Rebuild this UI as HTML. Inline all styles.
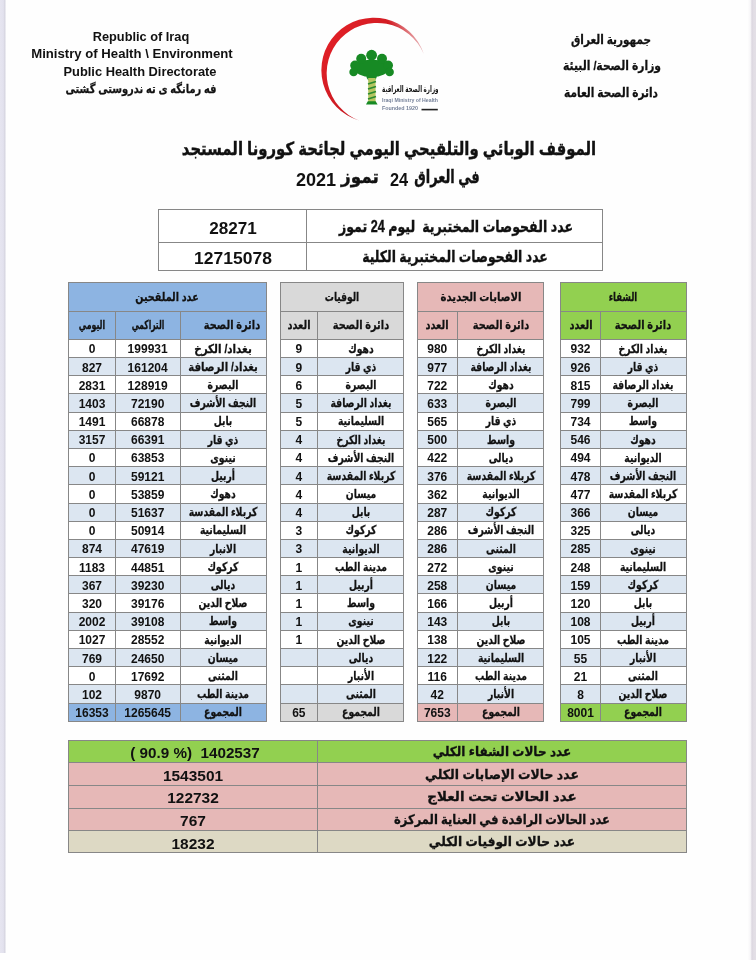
<!DOCTYPE html>
<html lang="ar"><head><meta charset="utf-8"><title>الموقف الوبائي والتلقيحي اليومي</title>
<style>
html,body{margin:0;padding:0}
body{width:756px;height:960px;position:relative;overflow:hidden;background:#fefefe;font-family:'Liberation Sans','DejaVu Sans',sans-serif;}
#c{position:absolute;left:0;top:0;width:756px;height:960px;filter:blur(0.4px)}
.b{position:absolute}
.t{position:absolute;white-space:pre;line-height:1;font-weight:bold;color:#111;font-family:'Liberation Sans','DejaVu Sans',sans-serif;}
.a{-webkit-text-stroke:0.022em #111}
</style></head>
<body>
<div class="b" style="left:0;top:0;width:6px;height:953px;background:linear-gradient(90deg,#e6e5f0 0,#e3e2ee 55%,#d9d8e3 75%,#f2f2f6 100%)"></div>
<div class="b" style="left:748px;top:0;width:8px;height:960px;background:linear-gradient(90deg,#fdfdfd 0,#f6f5f7 30%,#dcd7e0 50%,#e2dee5 72%,#e3dfe6 100%)"></div>
<div id="c">
<svg class="b" style="left:300px;top:8px" width="170" height="124" viewBox="300 8 170 124">
<defs>
<linearGradient id="cg" gradientUnits="userSpaceOnUse" x1="330" y1="40" x2="420" y2="110">
<stop offset="0" stop-color="#e01f26"/><stop offset="0.55" stop-color="#c81a22"/><stop offset="1" stop-color="#a01020"/>
</linearGradient>
<radialGradient id="fade" gradientUnits="userSpaceOnUse" cx="345" cy="62" r="82">
<stop offset="0" stop-color="#fff" stop-opacity="1"/><stop offset="0.72" stop-color="#fff" stop-opacity="1"/><stop offset="1" stop-color="#fff" stop-opacity="0.15"/>
</radialGradient>
<mask id="fm"><rect x="300" y="8" width="170" height="124" fill="url(#fade)"/></mask>
</defs>
<path mask="url(#fm)" fill="url(#cg)" d="M423.8 54 A52.5 52.5 0 1 0 359.5 120.7 A50.5 50.5 0 1 1 423.8 54 Z"/>
<g fill="#178a24">
<ellipse cx="371.6" cy="68.2" rx="17.5" ry="8.8"/>
<circle cx="371.6" cy="55.2" r="5.4"/>
<circle cx="361.2" cy="58.8" r="5"/>
<circle cx="382" cy="58.8" r="5"/>
<circle cx="355" cy="65.4" r="4.8"/>
<circle cx="388.2" cy="65.4" r="4.8"/>
<circle cx="353.6" cy="72" r="4.3"/>
<circle cx="389.6" cy="72" r="4.3"/>
<circle cx="371.6" cy="76" r="5.2"/>
</g>
<rect x="368.2" y="78" width="7.4" height="24" fill="#b4c560"/>
<g stroke="#2c8a30" stroke-width="1.8">
<path d="M368 84l8-2.5M368 89l8-2.5M368 94l8-2.5M368 99l8-2.5"/>
</g>
<path d="M366 104.6l1.8-3.4h7.8l2 3.4z" fill="#178a24"/>
<text x="410.3" y="91.8" text-anchor="middle" font-family="'Liberation Sans','DejaVu Sans',sans-serif" font-weight="bold" font-size="8.6" fill="#111" textLength="56.5" lengthAdjust="spacingAndGlyphs">وزارة الصحة العراقية</text>
<text x="382" y="101.6" font-family="'Liberation Sans',sans-serif" font-weight="bold" font-size="4.6" fill="#76829a" textLength="56" lengthAdjust="spacingAndGlyphs">Iraqi Ministry of Health</text>
<text x="382" y="110.3" font-family="'Liberation Sans',sans-serif" font-weight="bold" font-size="4.6" fill="#76829a" textLength="36" lengthAdjust="spacingAndGlyphs">Founded  1920</text>
<rect x="421.5" y="108.8" width="16.3" height="1.6" fill="#222"/>
</svg>

<div class="b" style="left:158.50px;top:209.60px;width:443.80px;height:60.90px;background:#fff;"></div>
<div class="b" style="left:158.00px;top:209.00px;width:445.00px;height:1.00px;background:#878787;"></div>
<div class="b" style="left:158.00px;top:242.00px;width:445.00px;height:1.00px;background:#878787;"></div>
<div class="b" style="left:158.00px;top:270.00px;width:445.00px;height:1.00px;background:#878787;"></div>
<div class="b" style="left:158.00px;top:209.00px;width:1.00px;height:62.00px;background:#878787;"></div>
<div class="b" style="left:306.00px;top:209.00px;width:1.00px;height:62.00px;background:#878787;"></div>
<div class="b" style="left:602.00px;top:209.00px;width:1.00px;height:62.00px;background:#878787;"></div>
<div class="b" style="left:560.50px;top:282.30px;width:125.50px;height:57.00px;background:#92d050;"></div>
<div class="b" style="left:560.50px;top:339.30px;width:125.50px;height:18.19px;background:#fff;"></div>
<div class="b" style="left:560.50px;top:357.49px;width:125.50px;height:18.19px;background:#dce6f1;"></div>
<div class="b" style="left:560.50px;top:375.68px;width:125.50px;height:18.19px;background:#fff;"></div>
<div class="b" style="left:560.50px;top:393.87px;width:125.50px;height:18.19px;background:#dce6f1;"></div>
<div class="b" style="left:560.50px;top:412.06px;width:125.50px;height:18.19px;background:#fff;"></div>
<div class="b" style="left:560.50px;top:430.25px;width:125.50px;height:18.19px;background:#dce6f1;"></div>
<div class="b" style="left:560.50px;top:448.44px;width:125.50px;height:18.19px;background:#fff;"></div>
<div class="b" style="left:560.50px;top:466.63px;width:125.50px;height:18.19px;background:#dce6f1;"></div>
<div class="b" style="left:560.50px;top:484.82px;width:125.50px;height:18.19px;background:#fff;"></div>
<div class="b" style="left:560.50px;top:503.01px;width:125.50px;height:18.19px;background:#dce6f1;"></div>
<div class="b" style="left:560.50px;top:521.20px;width:125.50px;height:18.19px;background:#fff;"></div>
<div class="b" style="left:560.50px;top:539.39px;width:125.50px;height:18.19px;background:#dce6f1;"></div>
<div class="b" style="left:560.50px;top:557.58px;width:125.50px;height:18.19px;background:#fff;"></div>
<div class="b" style="left:560.50px;top:575.77px;width:125.50px;height:18.19px;background:#dce6f1;"></div>
<div class="b" style="left:560.50px;top:593.96px;width:125.50px;height:18.19px;background:#fff;"></div>
<div class="b" style="left:560.50px;top:612.15px;width:125.50px;height:18.19px;background:#dce6f1;"></div>
<div class="b" style="left:560.50px;top:630.34px;width:125.50px;height:18.19px;background:#fff;"></div>
<div class="b" style="left:560.50px;top:648.53px;width:125.50px;height:18.19px;background:#dce6f1;"></div>
<div class="b" style="left:560.50px;top:666.72px;width:125.50px;height:18.19px;background:#fff;"></div>
<div class="b" style="left:560.50px;top:684.91px;width:125.50px;height:18.19px;background:#dce6f1;"></div>
<div class="b" style="left:560.50px;top:703.10px;width:125.50px;height:18.19px;background:#92d050;"></div>
<div class="b" style="left:560.00px;top:282.00px;width:127.00px;height:1.00px;background:#878787;"></div>
<div class="b" style="left:560.00px;top:311.00px;width:127.00px;height:1.00px;background:#878787;"></div>
<div class="b" style="left:560.00px;top:339.00px;width:127.00px;height:1.00px;background:#878787;"></div>
<div class="b" style="left:560.00px;top:357.00px;width:127.00px;height:1.00px;background:#878787;"></div>
<div class="b" style="left:560.00px;top:375.00px;width:127.00px;height:1.00px;background:#878787;"></div>
<div class="b" style="left:560.00px;top:393.00px;width:127.00px;height:1.00px;background:#878787;"></div>
<div class="b" style="left:560.00px;top:412.00px;width:127.00px;height:1.00px;background:#878787;"></div>
<div class="b" style="left:560.00px;top:430.00px;width:127.00px;height:1.00px;background:#878787;"></div>
<div class="b" style="left:560.00px;top:448.00px;width:127.00px;height:1.00px;background:#878787;"></div>
<div class="b" style="left:560.00px;top:466.00px;width:127.00px;height:1.00px;background:#878787;"></div>
<div class="b" style="left:560.00px;top:484.00px;width:127.00px;height:1.00px;background:#878787;"></div>
<div class="b" style="left:560.00px;top:503.00px;width:127.00px;height:1.00px;background:#878787;"></div>
<div class="b" style="left:560.00px;top:521.00px;width:127.00px;height:1.00px;background:#878787;"></div>
<div class="b" style="left:560.00px;top:539.00px;width:127.00px;height:1.00px;background:#878787;"></div>
<div class="b" style="left:560.00px;top:557.00px;width:127.00px;height:1.00px;background:#878787;"></div>
<div class="b" style="left:560.00px;top:575.00px;width:127.00px;height:1.00px;background:#878787;"></div>
<div class="b" style="left:560.00px;top:593.00px;width:127.00px;height:1.00px;background:#878787;"></div>
<div class="b" style="left:560.00px;top:612.00px;width:127.00px;height:1.00px;background:#878787;"></div>
<div class="b" style="left:560.00px;top:630.00px;width:127.00px;height:1.00px;background:#878787;"></div>
<div class="b" style="left:560.00px;top:648.00px;width:127.00px;height:1.00px;background:#878787;"></div>
<div class="b" style="left:560.00px;top:666.00px;width:127.00px;height:1.00px;background:#878787;"></div>
<div class="b" style="left:560.00px;top:684.00px;width:127.00px;height:1.00px;background:#878787;"></div>
<div class="b" style="left:560.00px;top:703.00px;width:127.00px;height:1.00px;background:#878787;"></div>
<div class="b" style="left:560.00px;top:721.00px;width:127.00px;height:1.00px;background:#878787;"></div>
<div class="b" style="left:560.00px;top:282.00px;width:1.00px;height:440.00px;background:#878787;"></div>
<div class="b" style="left:686.00px;top:282.00px;width:1.00px;height:440.00px;background:#878787;"></div>
<div class="b" style="left:600.00px;top:311.00px;width:1.00px;height:411.00px;background:#878787;"></div>
<div class="b" style="left:417.40px;top:282.30px;width:126.50px;height:57.00px;background:#e6b8b7;"></div>
<div class="b" style="left:417.40px;top:339.30px;width:126.50px;height:18.19px;background:#fff;"></div>
<div class="b" style="left:417.40px;top:357.49px;width:126.50px;height:18.19px;background:#dce6f1;"></div>
<div class="b" style="left:417.40px;top:375.68px;width:126.50px;height:18.19px;background:#fff;"></div>
<div class="b" style="left:417.40px;top:393.87px;width:126.50px;height:18.19px;background:#dce6f1;"></div>
<div class="b" style="left:417.40px;top:412.06px;width:126.50px;height:18.19px;background:#fff;"></div>
<div class="b" style="left:417.40px;top:430.25px;width:126.50px;height:18.19px;background:#dce6f1;"></div>
<div class="b" style="left:417.40px;top:448.44px;width:126.50px;height:18.19px;background:#fff;"></div>
<div class="b" style="left:417.40px;top:466.63px;width:126.50px;height:18.19px;background:#dce6f1;"></div>
<div class="b" style="left:417.40px;top:484.82px;width:126.50px;height:18.19px;background:#fff;"></div>
<div class="b" style="left:417.40px;top:503.01px;width:126.50px;height:18.19px;background:#dce6f1;"></div>
<div class="b" style="left:417.40px;top:521.20px;width:126.50px;height:18.19px;background:#fff;"></div>
<div class="b" style="left:417.40px;top:539.39px;width:126.50px;height:18.19px;background:#dce6f1;"></div>
<div class="b" style="left:417.40px;top:557.58px;width:126.50px;height:18.19px;background:#fff;"></div>
<div class="b" style="left:417.40px;top:575.77px;width:126.50px;height:18.19px;background:#dce6f1;"></div>
<div class="b" style="left:417.40px;top:593.96px;width:126.50px;height:18.19px;background:#fff;"></div>
<div class="b" style="left:417.40px;top:612.15px;width:126.50px;height:18.19px;background:#dce6f1;"></div>
<div class="b" style="left:417.40px;top:630.34px;width:126.50px;height:18.19px;background:#fff;"></div>
<div class="b" style="left:417.40px;top:648.53px;width:126.50px;height:18.19px;background:#dce6f1;"></div>
<div class="b" style="left:417.40px;top:666.72px;width:126.50px;height:18.19px;background:#fff;"></div>
<div class="b" style="left:417.40px;top:684.91px;width:126.50px;height:18.19px;background:#dce6f1;"></div>
<div class="b" style="left:417.40px;top:703.10px;width:126.50px;height:18.19px;background:#e6b8b7;"></div>
<div class="b" style="left:417.00px;top:282.00px;width:127.00px;height:1.00px;background:#878787;"></div>
<div class="b" style="left:417.00px;top:311.00px;width:127.00px;height:1.00px;background:#878787;"></div>
<div class="b" style="left:417.00px;top:339.00px;width:127.00px;height:1.00px;background:#878787;"></div>
<div class="b" style="left:417.00px;top:357.00px;width:127.00px;height:1.00px;background:#878787;"></div>
<div class="b" style="left:417.00px;top:375.00px;width:127.00px;height:1.00px;background:#878787;"></div>
<div class="b" style="left:417.00px;top:393.00px;width:127.00px;height:1.00px;background:#878787;"></div>
<div class="b" style="left:417.00px;top:412.00px;width:127.00px;height:1.00px;background:#878787;"></div>
<div class="b" style="left:417.00px;top:430.00px;width:127.00px;height:1.00px;background:#878787;"></div>
<div class="b" style="left:417.00px;top:448.00px;width:127.00px;height:1.00px;background:#878787;"></div>
<div class="b" style="left:417.00px;top:466.00px;width:127.00px;height:1.00px;background:#878787;"></div>
<div class="b" style="left:417.00px;top:484.00px;width:127.00px;height:1.00px;background:#878787;"></div>
<div class="b" style="left:417.00px;top:503.00px;width:127.00px;height:1.00px;background:#878787;"></div>
<div class="b" style="left:417.00px;top:521.00px;width:127.00px;height:1.00px;background:#878787;"></div>
<div class="b" style="left:417.00px;top:539.00px;width:127.00px;height:1.00px;background:#878787;"></div>
<div class="b" style="left:417.00px;top:557.00px;width:127.00px;height:1.00px;background:#878787;"></div>
<div class="b" style="left:417.00px;top:575.00px;width:127.00px;height:1.00px;background:#878787;"></div>
<div class="b" style="left:417.00px;top:593.00px;width:127.00px;height:1.00px;background:#878787;"></div>
<div class="b" style="left:417.00px;top:612.00px;width:127.00px;height:1.00px;background:#878787;"></div>
<div class="b" style="left:417.00px;top:630.00px;width:127.00px;height:1.00px;background:#878787;"></div>
<div class="b" style="left:417.00px;top:648.00px;width:127.00px;height:1.00px;background:#878787;"></div>
<div class="b" style="left:417.00px;top:666.00px;width:127.00px;height:1.00px;background:#878787;"></div>
<div class="b" style="left:417.00px;top:684.00px;width:127.00px;height:1.00px;background:#878787;"></div>
<div class="b" style="left:417.00px;top:703.00px;width:127.00px;height:1.00px;background:#878787;"></div>
<div class="b" style="left:417.00px;top:721.00px;width:127.00px;height:1.00px;background:#878787;"></div>
<div class="b" style="left:417.00px;top:282.00px;width:1.00px;height:440.00px;background:#878787;"></div>
<div class="b" style="left:543.00px;top:282.00px;width:1.00px;height:440.00px;background:#878787;"></div>
<div class="b" style="left:457.00px;top:311.00px;width:1.00px;height:411.00px;background:#878787;"></div>
<div class="b" style="left:280.10px;top:282.30px;width:123.80px;height:57.00px;background:#d9d9d9;"></div>
<div class="b" style="left:280.10px;top:339.30px;width:123.80px;height:18.19px;background:#fff;"></div>
<div class="b" style="left:280.10px;top:357.49px;width:123.80px;height:18.19px;background:#dce6f1;"></div>
<div class="b" style="left:280.10px;top:375.68px;width:123.80px;height:18.19px;background:#fff;"></div>
<div class="b" style="left:280.10px;top:393.87px;width:123.80px;height:18.19px;background:#dce6f1;"></div>
<div class="b" style="left:280.10px;top:412.06px;width:123.80px;height:18.19px;background:#fff;"></div>
<div class="b" style="left:280.10px;top:430.25px;width:123.80px;height:18.19px;background:#dce6f1;"></div>
<div class="b" style="left:280.10px;top:448.44px;width:123.80px;height:18.19px;background:#fff;"></div>
<div class="b" style="left:280.10px;top:466.63px;width:123.80px;height:18.19px;background:#dce6f1;"></div>
<div class="b" style="left:280.10px;top:484.82px;width:123.80px;height:18.19px;background:#fff;"></div>
<div class="b" style="left:280.10px;top:503.01px;width:123.80px;height:18.19px;background:#dce6f1;"></div>
<div class="b" style="left:280.10px;top:521.20px;width:123.80px;height:18.19px;background:#fff;"></div>
<div class="b" style="left:280.10px;top:539.39px;width:123.80px;height:18.19px;background:#dce6f1;"></div>
<div class="b" style="left:280.10px;top:557.58px;width:123.80px;height:18.19px;background:#fff;"></div>
<div class="b" style="left:280.10px;top:575.77px;width:123.80px;height:18.19px;background:#dce6f1;"></div>
<div class="b" style="left:280.10px;top:593.96px;width:123.80px;height:18.19px;background:#fff;"></div>
<div class="b" style="left:280.10px;top:612.15px;width:123.80px;height:18.19px;background:#dce6f1;"></div>
<div class="b" style="left:280.10px;top:630.34px;width:123.80px;height:18.19px;background:#fff;"></div>
<div class="b" style="left:280.10px;top:648.53px;width:123.80px;height:18.19px;background:#dce6f1;"></div>
<div class="b" style="left:280.10px;top:666.72px;width:123.80px;height:18.19px;background:#fff;"></div>
<div class="b" style="left:280.10px;top:684.91px;width:123.80px;height:18.19px;background:#dce6f1;"></div>
<div class="b" style="left:280.10px;top:703.10px;width:123.80px;height:18.19px;background:#d9d9d9;"></div>
<div class="b" style="left:280.00px;top:282.00px;width:124.00px;height:1.00px;background:#878787;"></div>
<div class="b" style="left:280.00px;top:311.00px;width:124.00px;height:1.00px;background:#878787;"></div>
<div class="b" style="left:280.00px;top:339.00px;width:124.00px;height:1.00px;background:#878787;"></div>
<div class="b" style="left:280.00px;top:357.00px;width:124.00px;height:1.00px;background:#878787;"></div>
<div class="b" style="left:280.00px;top:375.00px;width:124.00px;height:1.00px;background:#878787;"></div>
<div class="b" style="left:280.00px;top:393.00px;width:124.00px;height:1.00px;background:#878787;"></div>
<div class="b" style="left:280.00px;top:412.00px;width:124.00px;height:1.00px;background:#878787;"></div>
<div class="b" style="left:280.00px;top:430.00px;width:124.00px;height:1.00px;background:#878787;"></div>
<div class="b" style="left:280.00px;top:448.00px;width:124.00px;height:1.00px;background:#878787;"></div>
<div class="b" style="left:280.00px;top:466.00px;width:124.00px;height:1.00px;background:#878787;"></div>
<div class="b" style="left:280.00px;top:484.00px;width:124.00px;height:1.00px;background:#878787;"></div>
<div class="b" style="left:280.00px;top:503.00px;width:124.00px;height:1.00px;background:#878787;"></div>
<div class="b" style="left:280.00px;top:521.00px;width:124.00px;height:1.00px;background:#878787;"></div>
<div class="b" style="left:280.00px;top:539.00px;width:124.00px;height:1.00px;background:#878787;"></div>
<div class="b" style="left:280.00px;top:557.00px;width:124.00px;height:1.00px;background:#878787;"></div>
<div class="b" style="left:280.00px;top:575.00px;width:124.00px;height:1.00px;background:#878787;"></div>
<div class="b" style="left:280.00px;top:593.00px;width:124.00px;height:1.00px;background:#878787;"></div>
<div class="b" style="left:280.00px;top:612.00px;width:124.00px;height:1.00px;background:#878787;"></div>
<div class="b" style="left:280.00px;top:630.00px;width:124.00px;height:1.00px;background:#878787;"></div>
<div class="b" style="left:280.00px;top:648.00px;width:124.00px;height:1.00px;background:#878787;"></div>
<div class="b" style="left:280.00px;top:666.00px;width:124.00px;height:1.00px;background:#878787;"></div>
<div class="b" style="left:280.00px;top:684.00px;width:124.00px;height:1.00px;background:#878787;"></div>
<div class="b" style="left:280.00px;top:703.00px;width:124.00px;height:1.00px;background:#878787;"></div>
<div class="b" style="left:280.00px;top:721.00px;width:124.00px;height:1.00px;background:#878787;"></div>
<div class="b" style="left:280.00px;top:282.00px;width:1.00px;height:440.00px;background:#878787;"></div>
<div class="b" style="left:403.00px;top:282.00px;width:1.00px;height:440.00px;background:#878787;"></div>
<div class="b" style="left:317.00px;top:311.00px;width:1.00px;height:411.00px;background:#878787;"></div>
<div class="b" style="left:68.70px;top:282.30px;width:197.30px;height:57.00px;background:#8db4e2;"></div>
<div class="b" style="left:68.70px;top:339.30px;width:197.30px;height:18.19px;background:#fff;"></div>
<div class="b" style="left:68.70px;top:357.49px;width:197.30px;height:18.19px;background:#dce6f1;"></div>
<div class="b" style="left:68.70px;top:375.68px;width:197.30px;height:18.19px;background:#fff;"></div>
<div class="b" style="left:68.70px;top:393.87px;width:197.30px;height:18.19px;background:#dce6f1;"></div>
<div class="b" style="left:68.70px;top:412.06px;width:197.30px;height:18.19px;background:#fff;"></div>
<div class="b" style="left:68.70px;top:430.25px;width:197.30px;height:18.19px;background:#dce6f1;"></div>
<div class="b" style="left:68.70px;top:448.44px;width:197.30px;height:18.19px;background:#fff;"></div>
<div class="b" style="left:68.70px;top:466.63px;width:197.30px;height:18.19px;background:#dce6f1;"></div>
<div class="b" style="left:68.70px;top:484.82px;width:197.30px;height:18.19px;background:#fff;"></div>
<div class="b" style="left:68.70px;top:503.01px;width:197.30px;height:18.19px;background:#dce6f1;"></div>
<div class="b" style="left:68.70px;top:521.20px;width:197.30px;height:18.19px;background:#fff;"></div>
<div class="b" style="left:68.70px;top:539.39px;width:197.30px;height:18.19px;background:#dce6f1;"></div>
<div class="b" style="left:68.70px;top:557.58px;width:197.30px;height:18.19px;background:#fff;"></div>
<div class="b" style="left:68.70px;top:575.77px;width:197.30px;height:18.19px;background:#dce6f1;"></div>
<div class="b" style="left:68.70px;top:593.96px;width:197.30px;height:18.19px;background:#fff;"></div>
<div class="b" style="left:68.70px;top:612.15px;width:197.30px;height:18.19px;background:#dce6f1;"></div>
<div class="b" style="left:68.70px;top:630.34px;width:197.30px;height:18.19px;background:#fff;"></div>
<div class="b" style="left:68.70px;top:648.53px;width:197.30px;height:18.19px;background:#dce6f1;"></div>
<div class="b" style="left:68.70px;top:666.72px;width:197.30px;height:18.19px;background:#fff;"></div>
<div class="b" style="left:68.70px;top:684.91px;width:197.30px;height:18.19px;background:#dce6f1;"></div>
<div class="b" style="left:68.70px;top:703.10px;width:197.30px;height:18.19px;background:#8db4e2;"></div>
<div class="b" style="left:68.00px;top:282.00px;width:199.00px;height:1.00px;background:#878787;"></div>
<div class="b" style="left:68.00px;top:311.00px;width:199.00px;height:1.00px;background:#878787;"></div>
<div class="b" style="left:68.00px;top:339.00px;width:199.00px;height:1.00px;background:#878787;"></div>
<div class="b" style="left:68.00px;top:357.00px;width:199.00px;height:1.00px;background:#878787;"></div>
<div class="b" style="left:68.00px;top:375.00px;width:199.00px;height:1.00px;background:#878787;"></div>
<div class="b" style="left:68.00px;top:393.00px;width:199.00px;height:1.00px;background:#878787;"></div>
<div class="b" style="left:68.00px;top:412.00px;width:199.00px;height:1.00px;background:#878787;"></div>
<div class="b" style="left:68.00px;top:430.00px;width:199.00px;height:1.00px;background:#878787;"></div>
<div class="b" style="left:68.00px;top:448.00px;width:199.00px;height:1.00px;background:#878787;"></div>
<div class="b" style="left:68.00px;top:466.00px;width:199.00px;height:1.00px;background:#878787;"></div>
<div class="b" style="left:68.00px;top:484.00px;width:199.00px;height:1.00px;background:#878787;"></div>
<div class="b" style="left:68.00px;top:503.00px;width:199.00px;height:1.00px;background:#878787;"></div>
<div class="b" style="left:68.00px;top:521.00px;width:199.00px;height:1.00px;background:#878787;"></div>
<div class="b" style="left:68.00px;top:539.00px;width:199.00px;height:1.00px;background:#878787;"></div>
<div class="b" style="left:68.00px;top:557.00px;width:199.00px;height:1.00px;background:#878787;"></div>
<div class="b" style="left:68.00px;top:575.00px;width:199.00px;height:1.00px;background:#878787;"></div>
<div class="b" style="left:68.00px;top:593.00px;width:199.00px;height:1.00px;background:#878787;"></div>
<div class="b" style="left:68.00px;top:612.00px;width:199.00px;height:1.00px;background:#878787;"></div>
<div class="b" style="left:68.00px;top:630.00px;width:199.00px;height:1.00px;background:#878787;"></div>
<div class="b" style="left:68.00px;top:648.00px;width:199.00px;height:1.00px;background:#878787;"></div>
<div class="b" style="left:68.00px;top:666.00px;width:199.00px;height:1.00px;background:#878787;"></div>
<div class="b" style="left:68.00px;top:684.00px;width:199.00px;height:1.00px;background:#878787;"></div>
<div class="b" style="left:68.00px;top:703.00px;width:199.00px;height:1.00px;background:#878787;"></div>
<div class="b" style="left:68.00px;top:721.00px;width:199.00px;height:1.00px;background:#878787;"></div>
<div class="b" style="left:68.00px;top:282.00px;width:1.00px;height:440.00px;background:#878787;"></div>
<div class="b" style="left:266.00px;top:282.00px;width:1.00px;height:440.00px;background:#878787;"></div>
<div class="b" style="left:115.00px;top:311.00px;width:1.00px;height:411.00px;background:#878787;"></div>
<div class="b" style="left:180.00px;top:311.00px;width:1.00px;height:411.00px;background:#878787;"></div>
<div class="b" style="left:68.60px;top:740.20px;width:617.40px;height:22.60px;background:#92d050;"></div>
<div class="b" style="left:68.60px;top:762.80px;width:617.40px;height:22.60px;background:#e6b8b7;"></div>
<div class="b" style="left:68.60px;top:785.40px;width:617.40px;height:22.80px;background:#e6b8b7;"></div>
<div class="b" style="left:68.60px;top:808.20px;width:617.40px;height:22.30px;background:#e6b8b7;"></div>
<div class="b" style="left:68.60px;top:830.50px;width:617.40px;height:22.30px;background:#ddd9c4;"></div>
<div class="b" style="left:68.00px;top:740.00px;width:619.00px;height:1.00px;background:#878787;"></div>
<div class="b" style="left:68.00px;top:762.00px;width:619.00px;height:1.00px;background:#878787;"></div>
<div class="b" style="left:68.00px;top:785.00px;width:619.00px;height:1.00px;background:#878787;"></div>
<div class="b" style="left:68.00px;top:808.00px;width:619.00px;height:1.00px;background:#878787;"></div>
<div class="b" style="left:68.00px;top:830.00px;width:619.00px;height:1.00px;background:#878787;"></div>
<div class="b" style="left:68.00px;top:852.00px;width:619.00px;height:1.00px;background:#878787;"></div>
<div class="b" style="left:68.00px;top:740.00px;width:1.00px;height:113.00px;background:#878787;"></div>
<div class="b" style="left:317.00px;top:740.00px;width:1.00px;height:113.00px;background:#878787;"></div>
<div class="b" style="left:686.00px;top:740.00px;width:1.00px;height:113.00px;background:#878787;"></div>
<span class="t" style="left:140.70px;top:29.83px;font-size:13.2px;transform:translateX(-50%) scaleX(0.9683);">Republic of Iraq</span>
<span class="t" style="left:131.70px;top:47.33px;font-size:13.2px;transform:translateX(-50%) scaleX(0.9964);">Ministry of Health \ Environment</span>
<span class="t" style="left:140.00px;top:64.83px;font-size:13.2px;transform:translateX(-50%) scaleX(0.9756);">Public Health Directorate</span>
<span class="t a" dir="rtl" style="left:141.00px;top:82.50px;font-size:12.4px;transform:translateX(-50%) scaleX(0.7988);">فه رمانگه ى ته ندروستى گشتى</span>
<span class="t a" dir="rtl" style="left:610.50px;top:32.50px;font-size:13px;transform:translateX(-50%) scaleX(0.8038);">جمهورية العراق</span>
<span class="t a" dir="rtl" style="left:612.00px;top:58.60px;font-size:13px;transform:translateX(-50%) scaleX(0.8266);">وزارة الصحة/ البيئة</span>
<span class="t a" dir="rtl" style="left:610.50px;top:85.50px;font-size:13px;transform:translateX(-50%) scaleX(0.8111);">دائرة الصحة العامة</span>
<span class="t a" dir="rtl" style="left:388.80px;top:139.59px;font-size:18.2px;transform:translateX(-50%) scaleX(0.8179);">الموقف الوبائي والتلقيحي اليومي لجائحة كورونا المستجد</span>
<span class="t" style="left:315.80px;top:171.36px;font-size:18px;transform:translateX(-50%) scaleX(1.0038);">2021</span>
<span class="t a" dir="rtl" style="left:360.00px;top:167.96px;font-size:18px;transform:translateX(-50%) scaleX(0.9362);">تموز</span>
<span class="t" style="left:399.40px;top:171.36px;font-size:18px;transform:translateX(-50%) scaleX(0.9086);">24</span>
<span class="t a" dir="rtl" style="left:446.60px;top:167.96px;font-size:18px;transform:translateX(-50%) scaleX(0.7155);">في العراق</span>
<span class="t a" dir="rtl" style="left:456.00px;top:218.63px;font-size:15.8px;transform:translateX(-50%) scaleX(0.7960);">عدد الفحوصات المختبرية  ليوم 24 تموز</span>
<span class="t a" dir="rtl" style="left:454.50px;top:248.83px;font-size:15.8px;transform:translateX(-50%) scaleX(0.7832);">عدد الفحوصات المختبرية الكلية</span>
<span class="t" style="left:232.50px;top:219.64px;font-size:17.2px;transform:translateX(-50%) scaleX(0.9959);">28271</span>
<span class="t" style="left:233.30px;top:249.94px;font-size:17.2px;transform:translateX(-50%) scaleX(1.0172);">12715078</span>
<span class="t a" dir="rtl" style="left:623.25px;top:291.17px;font-size:12.2px;transform:translateX(-50%) scaleX(0.7021);">الشفاء</span>
<span class="t a" dir="rtl" style="left:580.50px;top:318.90px;font-size:12.4px;transform:translateX(-50%) scaleX(0.7900);">العدد</span>
<span class="t" style="left:580.50px;top:343.34px;font-size:12.0px;transform:translateX(-50%) scaleX(1.0000);">932</span>
<span class="t" style="left:580.50px;top:361.53px;font-size:12.0px;transform:translateX(-50%) scaleX(1.0000);">926</span>
<span class="t" style="left:580.50px;top:379.72px;font-size:12.0px;transform:translateX(-50%) scaleX(1.0000);">815</span>
<span class="t" style="left:580.50px;top:397.91px;font-size:12.0px;transform:translateX(-50%) scaleX(1.0000);">799</span>
<span class="t" style="left:580.50px;top:416.10px;font-size:12.0px;transform:translateX(-50%) scaleX(1.0000);">734</span>
<span class="t" style="left:580.50px;top:434.29px;font-size:12.0px;transform:translateX(-50%) scaleX(1.0000);">546</span>
<span class="t" style="left:580.50px;top:452.48px;font-size:12.0px;transform:translateX(-50%) scaleX(1.0000);">494</span>
<span class="t" style="left:580.50px;top:470.67px;font-size:12.0px;transform:translateX(-50%) scaleX(1.0000);">478</span>
<span class="t" style="left:580.50px;top:488.86px;font-size:12.0px;transform:translateX(-50%) scaleX(1.0000);">477</span>
<span class="t" style="left:580.50px;top:507.05px;font-size:12.0px;transform:translateX(-50%) scaleX(1.0000);">366</span>
<span class="t" style="left:580.50px;top:525.24px;font-size:12.0px;transform:translateX(-50%) scaleX(1.0000);">325</span>
<span class="t" style="left:580.50px;top:543.43px;font-size:12.0px;transform:translateX(-50%) scaleX(1.0000);">285</span>
<span class="t" style="left:580.50px;top:561.62px;font-size:12.0px;transform:translateX(-50%) scaleX(1.0000);">248</span>
<span class="t" style="left:580.50px;top:579.81px;font-size:12.0px;transform:translateX(-50%) scaleX(1.0000);">159</span>
<span class="t" style="left:580.50px;top:598.00px;font-size:12.0px;transform:translateX(-50%) scaleX(1.0000);">120</span>
<span class="t" style="left:580.50px;top:616.19px;font-size:12.0px;transform:translateX(-50%) scaleX(1.0000);">108</span>
<span class="t" style="left:580.50px;top:634.38px;font-size:12.0px;transform:translateX(-50%) scaleX(1.0000);">105</span>
<span class="t" style="left:580.50px;top:652.57px;font-size:12.0px;transform:translateX(-50%) scaleX(1.0000);">55</span>
<span class="t" style="left:580.50px;top:670.76px;font-size:12.0px;transform:translateX(-50%) scaleX(1.0000);">21</span>
<span class="t" style="left:580.50px;top:688.95px;font-size:12.0px;transform:translateX(-50%) scaleX(1.0000);">8</span>
<span class="t" style="left:580.50px;top:707.14px;font-size:12.0px;transform:translateX(-50%) scaleX(1.0000);">8001</span>
<span class="t a" dir="rtl" style="left:643.25px;top:318.90px;font-size:12.4px;transform:translateX(-50%) scaleX(0.7900);">دائرة الصحة</span>
<span class="t a" dir="rtl" style="left:643.25px;top:342.57px;font-size:12.2px;transform:translateX(-50%) scaleX(0.7600);">بغداد الكرخ</span>
<span class="t a" dir="rtl" style="left:643.25px;top:360.76px;font-size:12.2px;transform:translateX(-50%) scaleX(0.7600);">ذي قار</span>
<span class="t a" dir="rtl" style="left:643.25px;top:378.95px;font-size:12.2px;transform:translateX(-50%) scaleX(0.7600);">بغداد الرصافة</span>
<span class="t a" dir="rtl" style="left:643.25px;top:397.14px;font-size:12.2px;transform:translateX(-50%) scaleX(0.7600);">البصرة</span>
<span class="t a" dir="rtl" style="left:643.25px;top:415.33px;font-size:12.2px;transform:translateX(-50%) scaleX(0.7600);">واسط</span>
<span class="t a" dir="rtl" style="left:643.25px;top:433.52px;font-size:12.2px;transform:translateX(-50%) scaleX(0.7600);">دهوك</span>
<span class="t a" dir="rtl" style="left:643.25px;top:451.71px;font-size:12.2px;transform:translateX(-50%) scaleX(0.7600);">الديوانية</span>
<span class="t a" dir="rtl" style="left:643.25px;top:469.90px;font-size:12.2px;transform:translateX(-50%) scaleX(0.7600);">النجف الأشرف</span>
<span class="t a" dir="rtl" style="left:643.25px;top:488.09px;font-size:12.2px;transform:translateX(-50%) scaleX(0.7600);">كربلاء المقدسة</span>
<span class="t a" dir="rtl" style="left:643.25px;top:506.28px;font-size:12.2px;transform:translateX(-50%) scaleX(0.7600);">ميسان</span>
<span class="t a" dir="rtl" style="left:643.25px;top:524.47px;font-size:12.2px;transform:translateX(-50%) scaleX(0.7600);">ديالى</span>
<span class="t a" dir="rtl" style="left:643.25px;top:542.66px;font-size:12.2px;transform:translateX(-50%) scaleX(0.7600);">نينوى</span>
<span class="t a" dir="rtl" style="left:643.25px;top:560.85px;font-size:12.2px;transform:translateX(-50%) scaleX(0.7600);">السليمانية</span>
<span class="t a" dir="rtl" style="left:643.25px;top:579.04px;font-size:12.2px;transform:translateX(-50%) scaleX(0.7600);">كركوك</span>
<span class="t a" dir="rtl" style="left:643.25px;top:597.23px;font-size:12.2px;transform:translateX(-50%) scaleX(0.7600);">بابل</span>
<span class="t a" dir="rtl" style="left:643.25px;top:615.42px;font-size:12.2px;transform:translateX(-50%) scaleX(0.7600);">أربيل</span>
<span class="t a" dir="rtl" style="left:643.25px;top:633.61px;font-size:12.2px;transform:translateX(-50%) scaleX(0.7600);">مدينة الطب</span>
<span class="t a" dir="rtl" style="left:643.25px;top:651.80px;font-size:12.2px;transform:translateX(-50%) scaleX(0.7600);">الأنبار</span>
<span class="t a" dir="rtl" style="left:643.25px;top:669.99px;font-size:12.2px;transform:translateX(-50%) scaleX(0.7600);">المثنى</span>
<span class="t a" dir="rtl" style="left:643.25px;top:688.18px;font-size:12.2px;transform:translateX(-50%) scaleX(0.7600);">صلاح الدين</span>
<span class="t a" dir="rtl" style="left:643.25px;top:706.37px;font-size:12.2px;transform:translateX(-50%) scaleX(0.7600);">المجموع</span>
<span class="t a" dir="rtl" style="left:480.65px;top:291.17px;font-size:12.2px;transform:translateX(-50%) scaleX(0.8263);">الاصابات الجديدة</span>
<span class="t a" dir="rtl" style="left:437.25px;top:318.90px;font-size:12.4px;transform:translateX(-50%) scaleX(0.7900);">العدد</span>
<span class="t" style="left:437.25px;top:343.34px;font-size:12.0px;transform:translateX(-50%) scaleX(1.0000);">980</span>
<span class="t" style="left:437.25px;top:361.53px;font-size:12.0px;transform:translateX(-50%) scaleX(1.0000);">977</span>
<span class="t" style="left:437.25px;top:379.72px;font-size:12.0px;transform:translateX(-50%) scaleX(1.0000);">722</span>
<span class="t" style="left:437.25px;top:397.91px;font-size:12.0px;transform:translateX(-50%) scaleX(1.0000);">633</span>
<span class="t" style="left:437.25px;top:416.10px;font-size:12.0px;transform:translateX(-50%) scaleX(1.0000);">565</span>
<span class="t" style="left:437.25px;top:434.29px;font-size:12.0px;transform:translateX(-50%) scaleX(1.0000);">500</span>
<span class="t" style="left:437.25px;top:452.48px;font-size:12.0px;transform:translateX(-50%) scaleX(1.0000);">422</span>
<span class="t" style="left:437.25px;top:470.67px;font-size:12.0px;transform:translateX(-50%) scaleX(1.0000);">376</span>
<span class="t" style="left:437.25px;top:488.86px;font-size:12.0px;transform:translateX(-50%) scaleX(1.0000);">362</span>
<span class="t" style="left:437.25px;top:507.05px;font-size:12.0px;transform:translateX(-50%) scaleX(1.0000);">287</span>
<span class="t" style="left:437.25px;top:525.24px;font-size:12.0px;transform:translateX(-50%) scaleX(1.0000);">286</span>
<span class="t" style="left:437.25px;top:543.43px;font-size:12.0px;transform:translateX(-50%) scaleX(1.0000);">286</span>
<span class="t" style="left:437.25px;top:561.62px;font-size:12.0px;transform:translateX(-50%) scaleX(1.0000);">272</span>
<span class="t" style="left:437.25px;top:579.81px;font-size:12.0px;transform:translateX(-50%) scaleX(1.0000);">258</span>
<span class="t" style="left:437.25px;top:598.00px;font-size:12.0px;transform:translateX(-50%) scaleX(1.0000);">166</span>
<span class="t" style="left:437.25px;top:616.19px;font-size:12.0px;transform:translateX(-50%) scaleX(1.0000);">143</span>
<span class="t" style="left:437.25px;top:634.38px;font-size:12.0px;transform:translateX(-50%) scaleX(1.0000);">138</span>
<span class="t" style="left:437.25px;top:652.57px;font-size:12.0px;transform:translateX(-50%) scaleX(1.0000);">122</span>
<span class="t" style="left:437.25px;top:670.76px;font-size:12.0px;transform:translateX(-50%) scaleX(1.0000);">116</span>
<span class="t" style="left:437.25px;top:688.95px;font-size:12.0px;transform:translateX(-50%) scaleX(1.0000);">42</span>
<span class="t" style="left:437.25px;top:707.14px;font-size:12.0px;transform:translateX(-50%) scaleX(1.0000);">7653</span>
<span class="t a" dir="rtl" style="left:500.50px;top:318.90px;font-size:12.4px;transform:translateX(-50%) scaleX(0.7900);">دائرة الصحة</span>
<span class="t a" dir="rtl" style="left:500.50px;top:342.57px;font-size:12.2px;transform:translateX(-50%) scaleX(0.7600);">بغداد الكرخ</span>
<span class="t a" dir="rtl" style="left:500.50px;top:360.76px;font-size:12.2px;transform:translateX(-50%) scaleX(0.7600);">بغداد الرصافة</span>
<span class="t a" dir="rtl" style="left:500.50px;top:378.95px;font-size:12.2px;transform:translateX(-50%) scaleX(0.7600);">دهوك</span>
<span class="t a" dir="rtl" style="left:500.50px;top:397.14px;font-size:12.2px;transform:translateX(-50%) scaleX(0.7600);">البصرة</span>
<span class="t a" dir="rtl" style="left:500.50px;top:415.33px;font-size:12.2px;transform:translateX(-50%) scaleX(0.7600);">ذي قار</span>
<span class="t a" dir="rtl" style="left:500.50px;top:433.52px;font-size:12.2px;transform:translateX(-50%) scaleX(0.7600);">واسط</span>
<span class="t a" dir="rtl" style="left:500.50px;top:451.71px;font-size:12.2px;transform:translateX(-50%) scaleX(0.7600);">ديالى</span>
<span class="t a" dir="rtl" style="left:500.50px;top:469.90px;font-size:12.2px;transform:translateX(-50%) scaleX(0.7600);">كربلاء المقدسة</span>
<span class="t a" dir="rtl" style="left:500.50px;top:488.09px;font-size:12.2px;transform:translateX(-50%) scaleX(0.7600);">الديوانية</span>
<span class="t a" dir="rtl" style="left:500.50px;top:506.28px;font-size:12.2px;transform:translateX(-50%) scaleX(0.7600);">كركوك</span>
<span class="t a" dir="rtl" style="left:500.50px;top:524.47px;font-size:12.2px;transform:translateX(-50%) scaleX(0.7600);">النجف الأشرف</span>
<span class="t a" dir="rtl" style="left:500.50px;top:542.66px;font-size:12.2px;transform:translateX(-50%) scaleX(0.7600);">المثنى</span>
<span class="t a" dir="rtl" style="left:500.50px;top:560.85px;font-size:12.2px;transform:translateX(-50%) scaleX(0.7600);">نينوى</span>
<span class="t a" dir="rtl" style="left:500.50px;top:579.04px;font-size:12.2px;transform:translateX(-50%) scaleX(0.7600);">ميسان</span>
<span class="t a" dir="rtl" style="left:500.50px;top:597.23px;font-size:12.2px;transform:translateX(-50%) scaleX(0.7600);">أربيل</span>
<span class="t a" dir="rtl" style="left:500.50px;top:615.42px;font-size:12.2px;transform:translateX(-50%) scaleX(0.7600);">بابل</span>
<span class="t a" dir="rtl" style="left:500.50px;top:633.61px;font-size:12.2px;transform:translateX(-50%) scaleX(0.7600);">صلاح الدين</span>
<span class="t a" dir="rtl" style="left:500.50px;top:651.80px;font-size:12.2px;transform:translateX(-50%) scaleX(0.7600);">السليمانية</span>
<span class="t a" dir="rtl" style="left:500.50px;top:669.99px;font-size:12.2px;transform:translateX(-50%) scaleX(0.7600);">مدينة الطب</span>
<span class="t a" dir="rtl" style="left:500.50px;top:688.18px;font-size:12.2px;transform:translateX(-50%) scaleX(0.7600);">الأنبار</span>
<span class="t a" dir="rtl" style="left:500.50px;top:706.37px;font-size:12.2px;transform:translateX(-50%) scaleX(0.7600);">المجموع</span>
<span class="t a" dir="rtl" style="left:342.00px;top:291.17px;font-size:12.2px;transform:translateX(-50%) scaleX(0.7470);">الوفيات</span>
<span class="t a" dir="rtl" style="left:298.85px;top:318.90px;font-size:12.4px;transform:translateX(-50%) scaleX(0.7900);">العدد</span>
<span class="t" style="left:298.85px;top:343.34px;font-size:12.0px;transform:translateX(-50%) scaleX(1.0000);">9</span>
<span class="t" style="left:298.85px;top:361.53px;font-size:12.0px;transform:translateX(-50%) scaleX(1.0000);">9</span>
<span class="t" style="left:298.85px;top:379.72px;font-size:12.0px;transform:translateX(-50%) scaleX(1.0000);">6</span>
<span class="t" style="left:298.85px;top:397.91px;font-size:12.0px;transform:translateX(-50%) scaleX(1.0000);">5</span>
<span class="t" style="left:298.85px;top:416.10px;font-size:12.0px;transform:translateX(-50%) scaleX(1.0000);">5</span>
<span class="t" style="left:298.85px;top:434.29px;font-size:12.0px;transform:translateX(-50%) scaleX(1.0000);">4</span>
<span class="t" style="left:298.85px;top:452.48px;font-size:12.0px;transform:translateX(-50%) scaleX(1.0000);">4</span>
<span class="t" style="left:298.85px;top:470.67px;font-size:12.0px;transform:translateX(-50%) scaleX(1.0000);">4</span>
<span class="t" style="left:298.85px;top:488.86px;font-size:12.0px;transform:translateX(-50%) scaleX(1.0000);">4</span>
<span class="t" style="left:298.85px;top:507.05px;font-size:12.0px;transform:translateX(-50%) scaleX(1.0000);">4</span>
<span class="t" style="left:298.85px;top:525.24px;font-size:12.0px;transform:translateX(-50%) scaleX(1.0000);">3</span>
<span class="t" style="left:298.85px;top:543.43px;font-size:12.0px;transform:translateX(-50%) scaleX(1.0000);">3</span>
<span class="t" style="left:298.85px;top:561.62px;font-size:12.0px;transform:translateX(-50%) scaleX(1.0000);">1</span>
<span class="t" style="left:298.85px;top:579.81px;font-size:12.0px;transform:translateX(-50%) scaleX(1.0000);">1</span>
<span class="t" style="left:298.85px;top:598.00px;font-size:12.0px;transform:translateX(-50%) scaleX(1.0000);">1</span>
<span class="t" style="left:298.85px;top:616.19px;font-size:12.0px;transform:translateX(-50%) scaleX(1.0000);">1</span>
<span class="t" style="left:298.85px;top:634.38px;font-size:12.0px;transform:translateX(-50%) scaleX(1.0000);">1</span>
<span class="t" style="left:298.85px;top:707.14px;font-size:12.0px;transform:translateX(-50%) scaleX(1.0000);">65</span>
<span class="t a" dir="rtl" style="left:360.75px;top:318.90px;font-size:12.4px;transform:translateX(-50%) scaleX(0.7900);">دائرة الصحة</span>
<span class="t a" dir="rtl" style="left:360.75px;top:342.57px;font-size:12.2px;transform:translateX(-50%) scaleX(0.7600);">دهوك</span>
<span class="t a" dir="rtl" style="left:360.75px;top:360.76px;font-size:12.2px;transform:translateX(-50%) scaleX(0.7600);">ذي قار</span>
<span class="t a" dir="rtl" style="left:360.75px;top:378.95px;font-size:12.2px;transform:translateX(-50%) scaleX(0.7600);">البصرة</span>
<span class="t a" dir="rtl" style="left:360.75px;top:397.14px;font-size:12.2px;transform:translateX(-50%) scaleX(0.7600);">بغداد الرصافة</span>
<span class="t a" dir="rtl" style="left:360.75px;top:415.33px;font-size:12.2px;transform:translateX(-50%) scaleX(0.7600);">السليمانية</span>
<span class="t a" dir="rtl" style="left:360.75px;top:433.52px;font-size:12.2px;transform:translateX(-50%) scaleX(0.7600);">بغداد الكرخ</span>
<span class="t a" dir="rtl" style="left:360.75px;top:451.71px;font-size:12.2px;transform:translateX(-50%) scaleX(0.7600);">النجف الأشرف</span>
<span class="t a" dir="rtl" style="left:360.75px;top:469.90px;font-size:12.2px;transform:translateX(-50%) scaleX(0.7600);">كربلاء المقدسة</span>
<span class="t a" dir="rtl" style="left:360.75px;top:488.09px;font-size:12.2px;transform:translateX(-50%) scaleX(0.7600);">ميسان</span>
<span class="t a" dir="rtl" style="left:360.75px;top:506.28px;font-size:12.2px;transform:translateX(-50%) scaleX(0.7600);">بابل</span>
<span class="t a" dir="rtl" style="left:360.75px;top:524.47px;font-size:12.2px;transform:translateX(-50%) scaleX(0.7600);">كركوك</span>
<span class="t a" dir="rtl" style="left:360.75px;top:542.66px;font-size:12.2px;transform:translateX(-50%) scaleX(0.7600);">الديوانية</span>
<span class="t a" dir="rtl" style="left:360.75px;top:560.85px;font-size:12.2px;transform:translateX(-50%) scaleX(0.7600);">مدينة الطب</span>
<span class="t a" dir="rtl" style="left:360.75px;top:579.04px;font-size:12.2px;transform:translateX(-50%) scaleX(0.7600);">أربيل</span>
<span class="t a" dir="rtl" style="left:360.75px;top:597.23px;font-size:12.2px;transform:translateX(-50%) scaleX(0.7600);">واسط</span>
<span class="t a" dir="rtl" style="left:360.75px;top:615.42px;font-size:12.2px;transform:translateX(-50%) scaleX(0.7600);">نينوى</span>
<span class="t a" dir="rtl" style="left:360.75px;top:633.61px;font-size:12.2px;transform:translateX(-50%) scaleX(0.7600);">صلاح الدين</span>
<span class="t a" dir="rtl" style="left:360.75px;top:651.80px;font-size:12.2px;transform:translateX(-50%) scaleX(0.7600);">ديالى</span>
<span class="t a" dir="rtl" style="left:360.75px;top:669.99px;font-size:12.2px;transform:translateX(-50%) scaleX(0.7600);">الأنبار</span>
<span class="t a" dir="rtl" style="left:360.75px;top:688.18px;font-size:12.2px;transform:translateX(-50%) scaleX(0.7600);">المثنى</span>
<span class="t a" dir="rtl" style="left:360.75px;top:706.37px;font-size:12.2px;transform:translateX(-50%) scaleX(0.7600);">المجموع</span>
<span class="t a" dir="rtl" style="left:167.35px;top:291.17px;font-size:12.2px;transform:translateX(-50%) scaleX(0.7885);">عدد الملقحين</span>
<span class="t a" dir="rtl" style="left:92.00px;top:318.90px;font-size:12.4px;transform:translateX(-50%) scaleX(0.6319);">اليومي</span>
<span class="t" style="left:92.00px;top:343.34px;font-size:12.0px;transform:translateX(-50%) scaleX(1.0000);">0</span>
<span class="t" style="left:92.00px;top:361.53px;font-size:12.0px;transform:translateX(-50%) scaleX(1.0000);">827</span>
<span class="t" style="left:92.00px;top:379.72px;font-size:12.0px;transform:translateX(-50%) scaleX(1.0000);">2831</span>
<span class="t" style="left:92.00px;top:397.91px;font-size:12.0px;transform:translateX(-50%) scaleX(1.0000);">1403</span>
<span class="t" style="left:92.00px;top:416.10px;font-size:12.0px;transform:translateX(-50%) scaleX(1.0000);">1491</span>
<span class="t" style="left:92.00px;top:434.29px;font-size:12.0px;transform:translateX(-50%) scaleX(1.0000);">3157</span>
<span class="t" style="left:92.00px;top:452.48px;font-size:12.0px;transform:translateX(-50%) scaleX(1.0000);">0</span>
<span class="t" style="left:92.00px;top:470.67px;font-size:12.0px;transform:translateX(-50%) scaleX(1.0000);">0</span>
<span class="t" style="left:92.00px;top:488.86px;font-size:12.0px;transform:translateX(-50%) scaleX(1.0000);">0</span>
<span class="t" style="left:92.00px;top:507.05px;font-size:12.0px;transform:translateX(-50%) scaleX(1.0000);">0</span>
<span class="t" style="left:92.00px;top:525.24px;font-size:12.0px;transform:translateX(-50%) scaleX(1.0000);">0</span>
<span class="t" style="left:92.00px;top:543.43px;font-size:12.0px;transform:translateX(-50%) scaleX(1.0000);">874</span>
<span class="t" style="left:92.00px;top:561.62px;font-size:12.0px;transform:translateX(-50%) scaleX(1.0000);">1183</span>
<span class="t" style="left:92.00px;top:579.81px;font-size:12.0px;transform:translateX(-50%) scaleX(1.0000);">367</span>
<span class="t" style="left:92.00px;top:598.00px;font-size:12.0px;transform:translateX(-50%) scaleX(1.0000);">320</span>
<span class="t" style="left:92.00px;top:616.19px;font-size:12.0px;transform:translateX(-50%) scaleX(1.0000);">2002</span>
<span class="t" style="left:92.00px;top:634.38px;font-size:12.0px;transform:translateX(-50%) scaleX(1.0000);">1027</span>
<span class="t" style="left:92.00px;top:652.57px;font-size:12.0px;transform:translateX(-50%) scaleX(1.0000);">769</span>
<span class="t" style="left:92.00px;top:670.76px;font-size:12.0px;transform:translateX(-50%) scaleX(1.0000);">0</span>
<span class="t" style="left:92.00px;top:688.95px;font-size:12.0px;transform:translateX(-50%) scaleX(1.0000);">102</span>
<span class="t" style="left:92.00px;top:707.14px;font-size:12.0px;transform:translateX(-50%) scaleX(1.0000);">16353</span>
<span class="t a" dir="rtl" style="left:147.65px;top:318.90px;font-size:12.4px;transform:translateX(-50%) scaleX(0.6022);">التراكمي</span>
<span class="t" style="left:147.65px;top:343.34px;font-size:12.0px;transform:translateX(-50%) scaleX(1.0000);">199931</span>
<span class="t" style="left:147.65px;top:361.53px;font-size:12.0px;transform:translateX(-50%) scaleX(1.0000);">161204</span>
<span class="t" style="left:147.65px;top:379.72px;font-size:12.0px;transform:translateX(-50%) scaleX(1.0000);">128919</span>
<span class="t" style="left:147.65px;top:397.91px;font-size:12.0px;transform:translateX(-50%) scaleX(1.0000);">72190</span>
<span class="t" style="left:147.65px;top:416.10px;font-size:12.0px;transform:translateX(-50%) scaleX(1.0000);">66878</span>
<span class="t" style="left:147.65px;top:434.29px;font-size:12.0px;transform:translateX(-50%) scaleX(1.0000);">66391</span>
<span class="t" style="left:147.65px;top:452.48px;font-size:12.0px;transform:translateX(-50%) scaleX(1.0000);">63853</span>
<span class="t" style="left:147.65px;top:470.67px;font-size:12.0px;transform:translateX(-50%) scaleX(1.0000);">59121</span>
<span class="t" style="left:147.65px;top:488.86px;font-size:12.0px;transform:translateX(-50%) scaleX(1.0000);">53859</span>
<span class="t" style="left:147.65px;top:507.05px;font-size:12.0px;transform:translateX(-50%) scaleX(1.0000);">51637</span>
<span class="t" style="left:147.65px;top:525.24px;font-size:12.0px;transform:translateX(-50%) scaleX(1.0000);">50914</span>
<span class="t" style="left:147.65px;top:543.43px;font-size:12.0px;transform:translateX(-50%) scaleX(1.0000);">47619</span>
<span class="t" style="left:147.65px;top:561.62px;font-size:12.0px;transform:translateX(-50%) scaleX(1.0000);">44851</span>
<span class="t" style="left:147.65px;top:579.81px;font-size:12.0px;transform:translateX(-50%) scaleX(1.0000);">39230</span>
<span class="t" style="left:147.65px;top:598.00px;font-size:12.0px;transform:translateX(-50%) scaleX(1.0000);">39176</span>
<span class="t" style="left:147.65px;top:616.19px;font-size:12.0px;transform:translateX(-50%) scaleX(1.0000);">39108</span>
<span class="t" style="left:147.65px;top:634.38px;font-size:12.0px;transform:translateX(-50%) scaleX(1.0000);">28552</span>
<span class="t" style="left:147.65px;top:652.57px;font-size:12.0px;transform:translateX(-50%) scaleX(1.0000);">24650</span>
<span class="t" style="left:147.65px;top:670.76px;font-size:12.0px;transform:translateX(-50%) scaleX(1.0000);">17692</span>
<span class="t" style="left:147.65px;top:688.95px;font-size:12.0px;transform:translateX(-50%) scaleX(1.0000);">9870</span>
<span class="t" style="left:147.65px;top:707.14px;font-size:12.0px;transform:translateX(-50%) scaleX(1.0000);">1265645</span>
<span class="t a" dir="rtl" style="left:231.50px;top:318.90px;font-size:12.4px;transform:translateX(-50%) scaleX(0.7900);">دائرة الصحة</span>
<span class="t a" dir="rtl" style="left:223.00px;top:342.57px;font-size:12.2px;transform:translateX(-50%) scaleX(0.8482);">بغداد/ الكرخ</span>
<span class="t a" dir="rtl" style="left:223.00px;top:360.76px;font-size:12.2px;transform:translateX(-50%) scaleX(0.8297);">بغداد/ الرصافة</span>
<span class="t a" dir="rtl" style="left:223.00px;top:378.95px;font-size:12.2px;transform:translateX(-50%) scaleX(0.7600);">البصرة</span>
<span class="t a" dir="rtl" style="left:223.00px;top:397.14px;font-size:12.2px;transform:translateX(-50%) scaleX(0.7600);">النجف الأشرف</span>
<span class="t a" dir="rtl" style="left:223.00px;top:415.33px;font-size:12.2px;transform:translateX(-50%) scaleX(0.7600);">بابل</span>
<span class="t a" dir="rtl" style="left:223.00px;top:433.52px;font-size:12.2px;transform:translateX(-50%) scaleX(0.7600);">ذي قار</span>
<span class="t a" dir="rtl" style="left:223.00px;top:451.71px;font-size:12.2px;transform:translateX(-50%) scaleX(0.7600);">نينوى</span>
<span class="t a" dir="rtl" style="left:223.00px;top:469.90px;font-size:12.2px;transform:translateX(-50%) scaleX(0.7600);">أربيل</span>
<span class="t a" dir="rtl" style="left:223.00px;top:488.09px;font-size:12.2px;transform:translateX(-50%) scaleX(0.7600);">دهوك</span>
<span class="t a" dir="rtl" style="left:223.00px;top:506.28px;font-size:12.2px;transform:translateX(-50%) scaleX(0.7600);">كربلاء المقدسة</span>
<span class="t a" dir="rtl" style="left:223.00px;top:524.47px;font-size:12.2px;transform:translateX(-50%) scaleX(0.7600);">السليمانية</span>
<span class="t a" dir="rtl" style="left:223.00px;top:542.66px;font-size:12.2px;transform:translateX(-50%) scaleX(0.7600);">الانبار</span>
<span class="t a" dir="rtl" style="left:223.00px;top:560.85px;font-size:12.2px;transform:translateX(-50%) scaleX(0.7600);">كركوك</span>
<span class="t a" dir="rtl" style="left:223.00px;top:579.04px;font-size:12.2px;transform:translateX(-50%) scaleX(0.7600);">ديالى</span>
<span class="t a" dir="rtl" style="left:223.00px;top:597.23px;font-size:12.2px;transform:translateX(-50%) scaleX(0.7600);">صلاح الدين</span>
<span class="t a" dir="rtl" style="left:223.00px;top:615.42px;font-size:12.2px;transform:translateX(-50%) scaleX(0.7600);">واسط</span>
<span class="t a" dir="rtl" style="left:223.00px;top:633.61px;font-size:12.2px;transform:translateX(-50%) scaleX(0.7600);">الديوانية</span>
<span class="t a" dir="rtl" style="left:223.00px;top:651.80px;font-size:12.2px;transform:translateX(-50%) scaleX(0.7600);">ميسان</span>
<span class="t a" dir="rtl" style="left:223.00px;top:669.99px;font-size:12.2px;transform:translateX(-50%) scaleX(0.7600);">المثنى</span>
<span class="t a" dir="rtl" style="left:223.00px;top:688.18px;font-size:12.2px;transform:translateX(-50%) scaleX(0.7600);">مدينة الطب</span>
<span class="t a" dir="rtl" style="left:223.00px;top:706.37px;font-size:12.2px;transform:translateX(-50%) scaleX(0.7600);">المجموع</span>
<span class="t a" dir="rtl" style="left:501.90px;top:745.03px;font-size:13.2px;transform:translateX(-50%) scaleX(0.9114);">عدد حالات الشفاء الكلي</span>
<span class="t" style="left:194.60px;top:745.23px;font-size:15.2px;transform:translateX(-50%) scaleX(1.0032);">( 90.9 %)  1402537</span>
<span class="t a" dir="rtl" style="left:501.90px;top:767.63px;font-size:13.2px;transform:translateX(-50%) scaleX(0.9436);">عدد حالات الإصابات الكلي</span>
<span class="t" style="left:193.10px;top:767.83px;font-size:15.2px;transform:translateX(-50%) scaleX(1.0179);">1543501</span>
<span class="t a" dir="rtl" style="left:501.90px;top:790.23px;font-size:13.2px;transform:translateX(-50%) scaleX(1.0215);">عدد الحالات تحت العلاج</span>
<span class="t" style="left:193.10px;top:790.43px;font-size:15.2px;transform:translateX(-50%) scaleX(1.0180);">122732</span>
<span class="t a" dir="rtl" style="left:501.90px;top:813.03px;font-size:13.2px;transform:translateX(-50%) scaleX(0.8730);">عدد الحالات الراقدة في العناية المركزة</span>
<span class="t" style="left:193.10px;top:813.23px;font-size:15.2px;transform:translateX(-50%) scaleX(1.0180);">767</span>
<span class="t a" dir="rtl" style="left:501.90px;top:835.33px;font-size:13.2px;transform:translateX(-50%) scaleX(0.9274);">عدد حالات الوفيات الكلي</span>
<span class="t" style="left:193.10px;top:835.53px;font-size:15.2px;transform:translateX(-50%) scaleX(1.0181);">18232</span>
</div>
</body></html>
